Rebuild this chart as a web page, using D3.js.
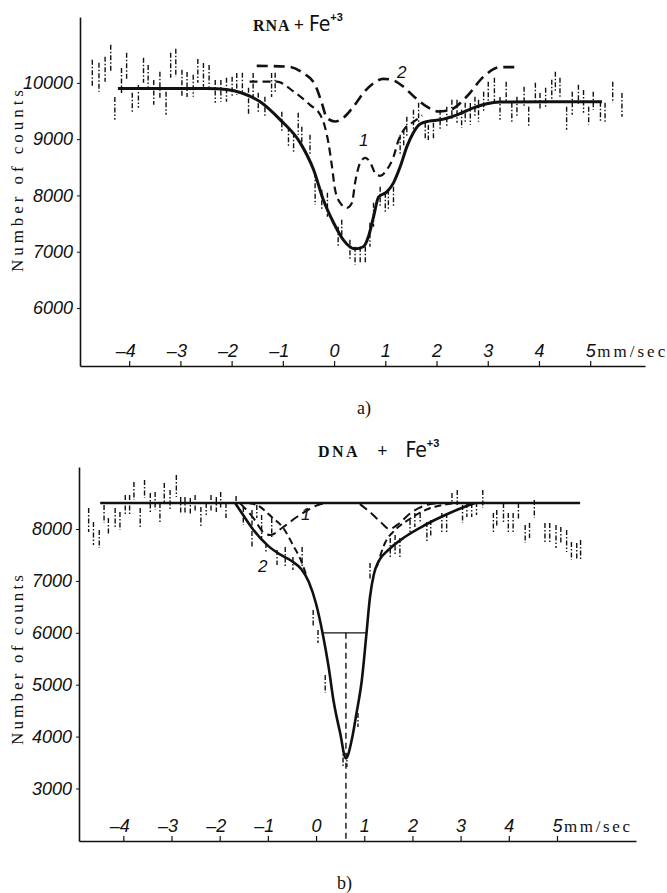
<!DOCTYPE html>
<html><head><meta charset="utf-8">
<script src="https://cdn.jsdelivr.net/npm/d3@7"></script>
<style>body{margin:0;background:#fff}svg{display:block}</style>
</head><body>
<script>
// ---------- Panel a) RNA + Fe+3 ----------
const xTicks = [-4,-3,-2,-1,0,1,2,3,4,5];
const aYTicks = [6000,7000,8000,9000,10000];
const bYTicks = [3000,4000,5000,6000,7000,8000];

// experimental points (velocity mm/sec, counts, half error)
const aX = [-4.72,-4.59,-4.47,-4.36,-4.28,-4.15,-4.05,-3.94,-3.82,-3.72,
-3.63,-3.52,-3.40,-3.28,-3.19,-3.09,-2.97,-2.87,-2.75,-2.66,
-2.55,-2.44,-2.32,-2.21,-2.10,-1.99,-1.90,-1.79,-1.67,-1.58,
-1.48,-1.35,-1.22,-1.15,-1.02,-0.89,-0.79,-0.70,-0.63,-0.47,
-0.37,-0.24,-0.13,0.08,0.15,0.31,0.41,0.51,0.61,0.70,
0.77,0.90,1.00,1.06,1.16,1.29,1.36,1.42,1.55,1.65,
1.78,1.84,1.94,2.07,2.20,2.30,2.40,2.49,2.56,2.66,
2.75,2.82,2.92,3.01,3.13,3.24,3.36,3.47,3.57,3.71,
3.80,3.93,4.02,4.13,4.25,4.32,4.41,4.54,4.65,4.77,
4.87,4.97,5.06,5.20,5.29,5.44,5.62];
const aY = [10169,10098,10240,10435,9547,10044,10293,9645,9760,10222,
10124,9831,9947,9636,10311,10355,9991,9973,9947,10213,
10142,10124,9849,9858,9876,9929,9982,10000,9671,9964,
9645,9565,9964,10000,9307,9041,8934,9272,9041,8899,
8117,7922,7833,7265,7389,7034,6928,6945,6945,7300,
7656,7975,7869,7922,7975,8899,9014,9219,9343,9432,
9139,9120,9139,9343,9396,9520,9494,9361,9467,9449,
9565,9503,9654,9814,9876,9547,9831,9467,9565,9751,
9396,9822,9671,9734,9876,10018,9920,9370,9636,9787,
9671,9414,9680,9485,9467,9831,9609];
const aErr = [240,258,222,240,204,222,240,178,204,222,
195,222,249,204,222,249,240,222,195,213,
213,195,204,195,213,178,195,178,240,213,
178,187,213,178,178,178,178,195,178,178,
284,178,213,178,178,178,160,142,142,213,
213,178,178,178,178,178,151,178,178,213,
151,133,151,178,178,178,204,160,178,195,
187,195,187,204,213,204,187,178,187,178,
178,178,151,178,178,178,169,204,204,178,
204,160,160,178,178,187,213];

// fitted curves, panel a
const aFitX = [-4.22,-3.0,-2.5,-2.1,-1.8,-1.45,-1.05,-0.66,-0.40,-0.21,-0.01,0.18,0.41,0.57,0.67,0.77,0.87,1.03,1.16,1.29,1.42,1.55,1.68,1.85,2.07,2.40,2.72,2.98,3.24,4.2,5.23];
const aFitY = [9900,9900,9898,9880,9820,9668,9343,8934,8455,7922,7514,7212,7052,7088,7265,7620,7975,8064,8224,8508,8863,9120,9270,9320,9343,9432,9556,9630,9660,9663,9663];
const aC1X = [-1.65,-1.12,-0.79,-0.47,-0.27,-0.18,-0.11,-0.04,0.02,0.12,0.25,0.35,0.41,0.51,0.61,0.70,0.80,0.90,1.03,1.16,1.26,1.39,1.55,1.72];
const aC1Y = [10023,10023,9846,9609,9432,9224,8934,8508,8100,7869,7780,7869,8224,8580,8668,8597,8402,8348,8455,8686,8988,9201,9307,9420];
const aC2X = [-1.51,-0.92,-0.60,-0.37,-0.24,-0.14,0.02,0.18,0.38,0.57,0.77,0.96,1.13,1.35,1.58,1.81,2.04,2.27,2.59,2.92,3.24,3.63];
const aC2Y = [10302,10290,10172,9964,9645,9378,9313,9378,9579,9817,9995,10071,10053,9934,9740,9579,9490,9520,9757,10112,10279,10279];

// ---------- Panel b) DNA + Fe+3 ----------
const bX = [-4.72,-4.62,-4.50,-4.40,-4.31,-4.17,-4.07,-3.96,-3.87,-3.78,
-3.65,-3.56,-3.44,-3.34,-3.24,-3.15,-3.03,-2.90,-2.81,-2.72,
-2.61,-2.51,-2.39,-2.28,-2.18,-2.07,-1.98,-1.87,-1.66,-1.51,
-1.33,-1.23,-1.13,-1.04,-0.92,-0.81,-0.64,-0.48,-0.29,-0.06,
0.04,0.19,0.56,0.64,0.87,1.12,1.54,1.64,1.74,1.95,
2.05,2.16,2.30,2.38,2.61,2.71,2.82,2.93,3.04,3.13,
3.23,3.33,3.46,3.68,3.75,3.89,3.99,4.09,4.20,4.34,
4.43,4.53,4.75,4.85,4.98,5.08,5.20,5.30,5.41,5.49];
const bY = [8173,7913,7807,8289,8048,8222,8154,8462,8462,8732,
8212,8771,8501,8540,8318,8694,8559,8829,8462,8462,
8434,8491,8222,8385,8491,8472,8559,8356,8568,8250,
8000,8337,8048,7644,8029,7451,7460,7335,7451,6275,
5928,5013,3606,3549,4320,7181,7634,7692,7644,8058,
8173,8212,7942,8010,8125,8116,8597,8607,8289,8366,
8366,8395,8578,8116,8202,8318,8116,8116,8337,7904,
7971,8385,7933,7933,7855,7884,7769,7576,7566,7595];
const bErr = [231,222,173,173,164,183,173,193,193,173,
193,173,193,173,183,193,193,212,154,154,
164,164,202,116,164,145,154,145,67,173,
366,125,222,87,183,145,193,125,202,164,
125,173,193,135,135,164,193,193,183,116,
135,96,193,164,183,193,96,145,173,135,
135,125,173,193,164,183,193,193,164,173,
145,173,183,183,222,154,212,173,164,193];

const bBaseX = [-4.48, 5.48];
const bBaseY = [8500, 8500];
const bFitX = [-1.68,-1.5,-1.33,-1.0,-0.75,-0.5,-0.3,-0.15,0.0,0.15,0.26,0.36,0.50,0.62,0.74,0.84,0.95,1.04,1.12,1.20,1.30,1.5,1.85,2.26,2.68,3.02,3.3];
const bFitY = [8500,8250,8019,7680,7510,7380,7220,6980,6560,5925,5346,4705,4069,3580,3934,4454,5090,5925,6695,7130,7380,7595,7852,8077,8270,8405,8500];
const bC1LX = [-1.58,-1.27,-1.10,-0.95,-0.68,-0.40,-0.17,0.04,0.2];
const bC1LY = [8500,8173,7942,7884,8039,8231,8366,8462,8500];
const bC1RX = [0.91,1.15,1.36,1.52,1.70,1.95,2.25,2.5];
const bC1RY = [8480,8300,8116,8000,8090,8300,8450,8500];
const bC2LX = [-1.40,-1.23,-0.92,-0.68,-0.48,-0.30,-0.19];
const bC2LY = [8500,8462,8231,8019,7692,7364,7075];
const bC2RX = [1.26,1.43,1.64,1.91,2.19,2.47,2.74,2.95];
const bC2RY = [7268,7730,7981,8173,8333,8430,8480,8500];
const bWidthX = [0.15, 1.05];
const bWidthY = [6000, 6000];
const bCenterX = [0.62, 0.62];
const bCenterY = [6000, 1988];

const W = 667, H = 893;
const svg = d3.select("body").append("svg").attr("width", W).attr("height", H);
const ink = "#111";
const tickFont = "'Liberation Sans', Arial, sans-serif";
const serif = "'Liberation Serif', 'Times New Roman', serif";

function fmtX(d){ return d < 0 ? "\u2013" + Math.abs(d) : String(d); }

function panel(cfg) {
  const g = svg.append("g");
  const x = d3.scaleLinear().domain(cfg.xDom).range(cfg.xRange);
  const y = d3.scaleLinear().domain(cfg.yDom).range(cfg.yRange);
  const y0 = cfg.yRange[0];

  // x axis (ticks up, labels above)
  const xa = g.append("g").attr("transform", `translate(0,${y0})`)
    .call(d3.axisTop(x).tickValues(xTicks).tickSize(5).tickPadding(4).tickSizeOuter(0).tickFormat(fmtX));
  xa.select(".domain").attr("stroke", ink).attr("stroke-width", 1.6);
  xa.selectAll(".tick line").attr("stroke", ink).attr("stroke-width", 1.2);
  xa.selectAll(".tick text").attr("fill", ink).attr("font-family", tickFont)
    .attr("font-style", "italic").attr("font-size", 18)
    .attr("text-anchor", "end").attr("dx", d => d < 0 ? 6 : 5);
  g.append("text").attr("x", x(5) + 7).attr("y", y0 - 9)
    .attr("font-family", serif).attr("font-size", 17).attr("fill", ink)
    .attr("textLength", cfg.unitLen).attr("lengthAdjust", "spacing").text("mm/sec");

  // y axis
  const ya = g.append("g").attr("transform", `translate(${cfg.xRange[0]},0)`)
    .call(d3.axisLeft(y).tickValues(cfg.yTicks).tickSize(3).tickPadding(4).tickSizeOuter(0).tickFormat(d3.format("d")));
  ya.select(".domain").attr("stroke", ink).attr("stroke-width", 1.6);
  ya.selectAll(".tick line").attr("stroke", ink);
  ya.selectAll(".tick text").attr("fill", ink).attr("font-family", tickFont)
    .attr("font-style", "italic").attr("font-size", 18);

  // y label
  g.append("text").attr("transform", `translate(23,${cfg.labelY}) rotate(-90)`)
    .attr("text-anchor", "middle").attr("font-family", serif).attr("font-size", 17)
    .attr("fill", ink).attr("textLength", cfg.labelLen).attr("lengthAdjust", "spacing")
    .text("Number of counts");

  // data points (dash-dot error bars)
  const pts = cfg.px.map((v, i) => ({x: v, y: cfg.py[i], e: cfg.pe[i]}));
  g.append("g").selectAll("line").data(pts).join("line")
    .attr("x1", d => x(d.x)).attr("x2", d => x(d.x))
    .attr("y1", d => y(d.y + d.e)).attr("y2", d => y(d.y - d.e))
    .attr("stroke", ink).attr("stroke-width", 1.4).attr("stroke-dasharray", "5,2,1.5,2");

  const smooth = d3.line().x(d => x(d[0])).y(d => y(d[1])).curve(d3.curveMonotoneX);
  const straight = d3.line().x(d => x(d[0])).y(d => y(d[1]));
  cfg.curves.forEach(c => {
    g.append("path").datum(c.xs.map((v, i) => [v, c.ys[i]]))
      .attr("d", c.straight ? straight : smooth)
      .attr("fill", "none").attr("stroke", ink).attr("stroke-width", c.w)
      .attr("stroke-dasharray", c.dash || null).attr("stroke-linecap", "butt");
  });
  cfg.labels.forEach(l => {
    g.append("text").attr("x", l.x).attr("y", l.y).attr("font-family", tickFont)
      .attr("font-style", "italic").attr("font-size", 17).attr("fill", ink).text(l.t);
  });
  return {x, y};
}

panel({
  xDom: [-4.96, 6.07], xRange: [80, 645],
  yDom: [4970, 11170], yRange: [366, 17],
  yTicks: aYTicks, labelY: 181, labelLen: 182, unitLen: 68,
  px: aX, py: aY, pe: aErr,
  curves: [
    {xs: aC2X, ys: aC2Y, w: 2.6, dash: "11,6"},
    {xs: aC1X, ys: aC1Y, w: 2.2, dash: "8,5"},
    {xs: aFitX, ys: aFitY, w: 3}
  ],
  labels: [{x: 397, y: 78, t: "2"}, {x: 359, y: 146, t: "1"}]
});

panel({
  xDom: [-4.92, 6.64], xRange: [79, 636],
  yDom: [1988, 9195], yRange: [841, 467],
  yTicks: bYTicks, labelY: 660, labelLen: 170, unitLen: 66,
  px: bX, py: bY, pe: bErr,
  curves: [
    {xs: bBaseX, ys: bBaseY, w: 2.6, straight: true},
    {xs: bC1LX, ys: bC1LY, w: 2, dash: "9,5"},
    {xs: bC1RX, ys: bC1RY, w: 2, dash: "9,5"},
    {xs: bC2LX, ys: bC2LY, w: 2, dash: "7,4"},
    {xs: bC2RX, ys: bC2RY, w: 2, dash: "7,4"},
    {xs: bWidthX, ys: bWidthY, w: 1.3, straight: true},
    {xs: bCenterX, ys: bCenterY, w: 1.4, dash: "6,4", straight: true},
    {xs: bFitX, ys: bFitY, w: 2.6}
  ],
  labels: [{x: 301, y: 520, t: "1"}, {x: 258, y: 572, t: "2"}]
});

// titles
function title(xp, yp, first, wide) {
  const t = svg.append("text").attr("x", xp).attr("y", yp).attr("fill", ink);
  t.append("tspan").attr("font-family", serif).attr("font-weight", "bold").attr("font-size", 16)
    .attr("letter-spacing", wide ? 2.5 : 1).text(first);
  t.append("tspan").attr("font-family", serif).attr("font-weight", "bold").attr("font-size", 18)
    .attr("dx", wide ? 17 : 3).text("+");
  t.append("tspan").attr("font-family", "'Liberation Sans Narrow', 'DejaVu Sans Condensed', sans-serif")
    .attr("font-size", 21).attr("dx", wide ? 18 : 5).text("Fe");
  t.append("tspan").attr("font-family", tickFont).attr("font-weight", "bold").attr("font-size", 11)
    .attr("dy", -10).text("+3");
}
title(253, 31, "RNA", false);
title(318, 457, "DNA", true);

svg.append("text").attr("x", 357).attr("y", 414).attr("font-family", serif).attr("font-size", 18).attr("fill", ink).text("a)");
svg.append("text").attr("x", 337).attr("y", 889).attr("font-family", serif).attr("font-size", 18).attr("fill", ink).text("b)");
</script></body></html>
